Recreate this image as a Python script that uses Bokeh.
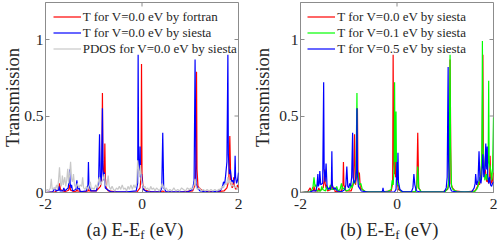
import math
from bokeh.plotting import figure
from bokeh.models import Range1d, FixedTicker, Label, Legend, LegendItem
from bokeh.layouts import row, column
from bokeh.embed import file_html
from bokeh.resources import INLINE

# ---------------- data ----------------
x_ticks = [-2, 0, 2]
x_tick_labels = ["-2", "0", "2"]
y_ticks = [0, 0.5, 1]
y_tick_labels = ["0", "0.5", "1"]
y_title = "Transmission"

legend_a = ["T for V=0.0 eV by fortran", "T for V=0.0 eV by siesta", "PDOS for V=0.0 eV by siesta"]
legend_b = ["T for V=0.0 eV by siesta", "T for V=0.1 eV by siesta", "T for V=0.5 eV by siesta"]

# T(E) at V=0.0 eV by fortran
t_fortran = [(-2.00, 0.0), (-1.80, 0.005), (-1.73, 0.02), (-1.71, 0.06), (-1.69, 0.02), (-1.60, 0.005),
             (-1.52, 0.015), (-1.50, 0.05), (-1.48, 0.015), (-1.40, 0.005), (-1.36, 0.01), (-1.35, 0.02),
             (-1.34, 0.01), (-1.20, 0.005), (-1.12, 0.01), (-1.11, 0.03), (-1.10, 0.01), (-0.95, 0.01),
             (-0.86, 0.04), (-0.84, 0.08), (-0.83, 0.25), (-0.82, 0.65), (-0.81, 0.20), (-0.79, 0.08),
             (-0.78, 0.12), (-0.77, 0.32), (-0.76, 0.10), (-0.74, 0.03), (-0.70, 0.01), (-0.50, 0.003),
             (-0.10, 0.005), (-0.04, 0.03), (-0.02, 0.10), (-0.01, 0.84), (0.00, 0.12), (0.02, 0.04),
             (0.05, 0.015), (0.20, 0.004), (0.40, 0.005), (0.43, 0.01), (0.46, 0.005), (0.80, 0.003),
             (1.05, 0.01), (1.10, 0.05), (1.12, 0.20), (1.13, 0.79), (1.14, 0.15), (1.16, 0.04),
             (1.25, 0.01), (1.50, 0.003), (1.70, 0.01), (1.76, 0.03), (1.80, 0.08), (1.82, 0.37),
             (1.84, 0.06), (1.87, 0.03), (1.89, 0.06), (1.90, 0.10), (1.91, 0.04), (1.95, 0.02),
             (1.98, 0.05), (2.00, 0.03)]

# T(E) at V=0.0 eV by siesta
t_siesta_v00 = [(-2.00, 0.0), (-1.85, 0.005), (-1.80, 0.03), (-1.78, 0.01), (-1.73, 0.015), (-1.72, 0.04),
                (-1.70, 0.01), (-1.64, 0.01), (-1.62, 0.03), (-1.60, 0.01), (-1.53, 0.03), (-1.51, 0.08),
                (-1.50, 0.15), (-1.49, 0.06), (-1.47, 0.03), (-1.46, 0.05), (-1.44, 0.01), (-1.37, 0.02),
                (-1.35, 0.08), (-1.33, 0.02), (-1.30, 0.03), (-1.28, 0.005), (-1.15, 0.01), (-1.12, 0.05),
                (-1.11, 0.20), (-1.10, 0.05), (-1.06, 0.01), (-0.95, 0.01), (-0.90, 0.06), (-0.88, 0.38),
                (-0.86, 0.05), (-0.84, 0.10), (-0.82, 0.55), (-0.81, 0.15), (-0.79, 0.08), (-0.78, 0.13),
                (-0.76, 0.03), (-0.72, 0.02), (-0.65, 0.005), (-0.30, 0.005), (-0.12, 0.01), (-0.09, 0.06),
                (-0.08, 0.90), (-0.07, 0.22), (-0.05, 0.12), (-0.04, 0.30), (-0.03, 0.10), (-0.01, 0.12),
                (0.01, 0.05), (0.03, 0.02), (0.10, 0.005), (0.38, 0.005), (0.41, 0.03), (0.43, 0.39),
                (0.45, 0.03), (0.50, 0.005), (0.95, 0.005), (1.05, 0.02), (1.08, 0.08), (1.10, 0.87),
                (1.12, 0.06), (1.15, 0.03), (1.20, 0.01), (1.40, 0.003), (1.62, 0.01), (1.67, 0.04),
                (1.69, 0.07), (1.71, 0.05), (1.73, 0.10), (1.76, 0.20), (1.78, 0.90), (1.79, 0.25),
                (1.81, 0.12), (1.83, 0.15), (1.86, 0.07), (1.88, 0.08), (1.90, 0.06), (1.92, 0.10),
                (1.93, 0.24), (1.94, 0.10), (1.96, 0.06), (1.98, 0.08), (2.00, 0.13)]

# PDOS at V=0.0 eV by siesta
pdos_v00 = [(-2.00, 0.01), (-1.96, 0.02), (-1.93, 0.01), (-1.90, 0.03), (-1.88, 0.09), (-1.86, 0.02),
            (-1.83, 0.03), (-1.80, 0.02), (-1.77, 0.05), (-1.75, 0.02), (-1.73, 0.08), (-1.71, 0.165),
            (-1.69, 0.06), (-1.67, 0.04), (-1.65, 0.11), (-1.63, 0.05), (-1.60, 0.10), (-1.58, 0.04),
            (-1.56, 0.08), (-1.54, 0.155), (-1.52, 0.06), (-1.50, 0.12), (-1.48, 0.20), (-1.46, 0.09),
            (-1.44, 0.07), (-1.42, 0.12), (-1.40, 0.05), (-1.37, 0.03), (-1.34, 0.06), (-1.31, 0.03),
            (-1.28, 0.05), (-1.25, 0.04), (-1.23, 0.10), (-1.21, 0.03), (-1.18, 0.02), (-1.15, 0.04),
            (-1.12, 0.02), (-1.09, 0.05), (-1.07, 0.07), (-1.05, 0.02), (-1.02, 0.03), (-0.99, 0.02),
            (-0.96, 0.05), (-0.93, 0.03), (-0.90, 0.08), (-0.88, 0.10), (-0.86, 0.05), (-0.83, 0.07),
            (-0.80, 0.09), (-0.78, 0.12), (-0.76, 0.05), (-0.73, 0.04), (-0.70, 0.11), (-0.68, 0.04),
            (-0.65, 0.02), (-0.62, 0.04), (-0.59, 0.02), (-0.56, 0.01), (-0.53, 0.03), (-0.50, 0.02),
            (-0.47, 0.04), (-0.44, 0.02), (-0.41, 0.05), (-0.38, 0.02), (-0.35, 0.03), (-0.32, 0.01),
            (-0.29, 0.04), (-0.26, 0.02), (-0.23, 0.05), (-0.20, 0.02), (-0.17, 0.05), (-0.14, 0.03),
            (-0.11, 0.06), (-0.09, 0.21), (-0.07, 0.15), (-0.05, 0.10), (-0.03, 0.18), (-0.01, 0.08),
            (0.01, 0.05), (0.03, 0.03), (0.06, 0.04), (0.09, 0.02), (0.12, 0.03), (0.15, 0.01),
            (0.18, 0.04), (0.21, 0.02), (0.24, 0.03), (0.27, 0.01), (0.30, 0.03), (0.33, 0.02),
            (0.36, 0.01), (0.39, 0.03), (0.42, 0.06), (0.44, 0.04), (0.47, 0.02), (0.50, 0.03),
            (0.54, 0.01), (0.58, 0.02), (0.62, 0.01), (0.66, 0.03), (0.70, 0.01), (0.74, 0.02),
            (0.78, 0.01), (0.82, 0.03), (0.86, 0.02), (0.90, 0.01), (0.94, 0.03), (0.98, 0.02),
            (1.02, 0.03), (1.05, 0.02), (1.08, 0.05), (1.10, 0.09), (1.12, 0.04), (1.15, 0.02),
            (1.19, 0.03), (1.23, 0.01), (1.27, 0.02), (1.31, 0.01), (1.35, 0.02), (1.39, 0.01),
            (1.43, 0.02), (1.47, 0.01), (1.51, 0.02), (1.55, 0.01), (1.59, 0.02), (1.63, 0.02),
            (1.66, 0.04), (1.69, 0.03), (1.72, 0.06), (1.75, 0.05), (1.78, 0.10), (1.80, 0.06),
            (1.83, 0.08), (1.86, 0.04), (1.89, 0.05), (1.92, 0.03), (1.95, 0.04), (1.98, 0.02),
            (2.00, 0.03)]

# T(E) at V=0.1 eV by siesta
t_siesta_v01 = [(-2.00, 0.0), (-1.80, 0.005), (-1.76, 0.02), (-1.74, 0.04), (-1.72, 0.10), (-1.70, 0.04),
                (-1.68, 0.05), (-1.66, 0.01), (-1.58, 0.01), (-1.56, 0.04), (-1.54, 0.02), (-1.48, 0.01),
                (-1.46, 0.04), (-1.44, 0.02), (-1.40, 0.03), (-1.38, 0.05), (-1.36, 0.02), (-1.32, 0.02),
                (-1.30, 0.03), (-1.27, 0.02), (-1.25, 0.04), (-1.22, 0.01), (-1.18, 0.02), (-1.15, 0.06),
                (-1.13, 0.02), (-1.10, 0.03), (-1.05, 0.01), (-0.98, 0.02), (-0.95, 0.05), (-0.93, 0.03),
                (-0.90, 0.08), (-0.87, 0.06), (-0.85, 0.12), (-0.83, 0.65), (-0.82, 0.15), (-0.80, 0.10),
                (-0.78, 0.05), (-0.75, 0.06), (-0.72, 0.02), (-0.65, 0.005), (-0.20, 0.005), (-0.12, 0.02),
                (-0.10, 0.08), (-0.08, 0.05), (-0.06, 0.15), (-0.05, 0.72), (-0.04, 0.20), (-0.03, 0.25),
                (-0.02, 0.53), (-0.01, 0.12), (0.01, 0.05), (0.03, 0.05), (0.05, 0.02), (0.10, 0.005),
                (0.38, 0.005), (0.41, 0.04), (0.43, 0.17), (0.45, 0.03), (0.50, 0.005), (1.00, 0.005),
                (1.06, 0.03), (1.08, 0.12), (1.10, 0.90), (1.11, 0.30), (1.13, 0.04), (1.16, 0.02),
                (1.25, 0.005), (1.60, 0.005), (1.65, 0.02), (1.68, 0.04), (1.72, 0.10), (1.74, 0.08),
                (1.76, 0.30), (1.77, 0.99), (1.78, 0.30), (1.80, 0.20), (1.82, 0.08), (1.85, 0.12),
                (1.87, 0.08), (1.89, 0.20), (1.90, 0.73), (1.91, 0.20), (1.94, 0.15), (1.96, 0.08),
                (1.98, 0.15), (2.00, 0.49)]

# T(E) at V=0.5 eV by siesta
t_siesta_v05 = [(-2.00, 0.0), (-1.80, 0.003), (-1.75, 0.01), (-1.68, 0.01), (-1.66, 0.04), (-1.64, 0.12),
                (-1.63, 0.04), (-1.61, 0.06), (-1.60, 0.14), (-1.58, 0.05), (-1.54, 0.06), (-1.52, 0.72),
                (-1.51, 0.15), (-1.49, 0.07), (-1.47, 0.19), (-1.45, 0.04), (-1.42, 0.02), (-1.40, 0.03),
                (-1.38, 0.02), (-1.36, 0.05), (-1.35, 0.27), (-1.34, 0.05), (-1.31, 0.02), (-1.28, 0.03),
                (-1.24, 0.01), (-1.15, 0.005), (-1.08, 0.02), (-1.06, 0.05), (-1.04, 0.17), (-1.02, 0.04),
                (-1.00, 0.03), (-0.98, 0.06), (-0.96, 0.04), (-0.94, 0.10), (-0.92, 0.39), (-0.91, 0.10),
                (-0.89, 0.06), (-0.86, 0.08), (-0.84, 0.15), (-0.83, 0.55), (-0.82, 0.12), (-0.80, 0.04),
                (-0.78, 0.03), (-0.74, 0.01), (-0.60, 0.003), (-0.32, 0.003), (-0.30, 0.01), (-0.29, 0.03),
                (-0.28, 0.01), (-0.25, 0.003), (-0.05, 0.005), (-0.02, 0.02), (0.00, 0.20), (0.01, 0.08),
                (0.02, 0.26), (0.03, 0.07), (0.06, 0.02), (0.12, 0.005), (0.30, 0.005), (0.33, 0.03),
                (0.35, 0.12), (0.37, 0.05), (0.40, 0.01), (0.50, 0.003), (0.98, 0.005), (1.02, 0.03),
                (1.04, 0.10), (1.06, 0.82), (1.07, 0.20), (1.09, 0.04), (1.13, 0.01), (1.25, 0.003),
                (1.55, 0.005), (1.60, 0.03), (1.62, 0.06), (1.63, 0.12), (1.65, 0.05), (1.68, 0.08),
                (1.70, 0.27), (1.72, 0.08), (1.74, 0.06), (1.76, 0.12), (1.78, 0.25), (1.80, 0.10),
                (1.82, 0.15), (1.84, 0.32), (1.85, 0.15), (1.87, 0.30), (1.88, 0.12), (1.90, 0.06),
                (1.92, 0.10), (1.94, 0.05), (1.96, 0.04), (1.98, 0.06), (2.00, 0.07)]

# ---------------- style / layout ----------------
FONT = "Liberation Serif"
BOX = "#8c8c8c"
TEXT = "#262626"
RED, BLUE, GREEN, GRAY = "#ff0000", "#0000ff", "#00ff00", "#c8c8c8"

TOTAL_H = 243
MAIN_H = 215
TOP = 2
BOTTOM = 23
FRAME_H = MAIN_H - TOP - BOTTOM
PX_PER_UNIT = 153.0
Y_TOP = FRAME_H / PX_PER_UNIT
XLAB_H = TOTAL_H - MAIN_H


def xs(s):
    return [a for a, b in s]


def ys(s):
    return [b for a, b in s]


def make_main(width, bl, br, ylab_standoff, legend_x, series, names, colors):
    p = figure(width=width, height=MAIN_H, x_range=Range1d(-2, 2), y_range=Range1d(0, Y_TOP),
               output_backend="svg", toolbar_location=None,
               min_border_left=bl, min_border_right=br, min_border_top=TOP, min_border_bottom=BOTTOM)
    p.xgrid.visible = False
    p.ygrid.visible = False
    p.outline_line_color = BOX
    p.outline_line_width = 1
    p.border_fill_color = None

    for ax, ticks, labels in ((p.xaxis[0], x_ticks, x_tick_labels), (p.yaxis[0], y_ticks, y_tick_labels)):
        ax.ticker = FixedTicker(ticks=ticks)
        ax.major_label_overrides = {t: l for t, l in zip(ticks, labels)}
        ax.major_tick_in = 4
        ax.major_tick_out = 0
        ax.minor_tick_line_color = None
        ax.axis_line_color = BOX
        ax.major_tick_line_color = BOX
        ax.major_label_text_font = FONT
        ax.major_label_text_font_size = "15.5px"
        ax.major_label_text_color = TEXT
    p.xaxis[0].major_label_standoff = 6
    p.yaxis[0].major_label_standoff = 2
    p.yaxis[0].axis_label = y_title
    p.yaxis[0].axis_label_text_font = FONT
    p.yaxis[0].axis_label_text_font_size = "18.5px"
    p.yaxis[0].axis_label_text_font_style = "normal"
    p.yaxis[0].axis_label_text_color = TEXT
    p.yaxis[0].axis_label_standoff = ylab_standoff

    items = []
    for s, name, c in zip(series, names, colors):
        r = p.line(xs(s), ys(s), line_color=c, line_width=1.2)
        items.append((name, r))

    # mirrored ticks on the right and top edges of the box
    p.ray(x=[p.x_range.end] * len(y_ticks), y=y_ticks, length=4, length_units="screen",
          angle=math.pi, line_color=BOX, line_width=1)
    p.ray(x=x_ticks, y=[p.y_range.end] * len(x_ticks), length=4, length_units="screen",
          angle=-math.pi / 2, line_color=BOX, line_width=1)

    legend = Legend(items=[LegendItem(label=n, renderers=[r]) for n, r in items],
                    location=(legend_x, FRAME_H - 45 - 9.5),
                    border_line_color=None, background_fill_alpha=0,
                    label_text_font=FONT, label_text_font_size="13px", label_text_color=TEXT,
                    glyph_width=28, glyph_height=15, label_height=15, label_standoff=2,
                    spacing=0, padding=0, margin=0)
    p.add_layout(legend)
    return p


def make_xlab(width, bl, br, panel):
    f = figure(width=width, height=XLAB_H, x_range=Range1d(-2, 2), y_range=Range1d(0, XLAB_H),
               output_backend="svg", toolbar_location=None, x_axis_type=None, y_axis_type=None,
               min_border_left=bl, min_border_right=br, min_border_top=0, min_border_bottom=0)
    f.outline_line_color = None
    f.background_fill_color = None
    f.border_fill_color = None
    f.add_layout(Label(x=0, y=XLAB_H - 14, x_offset=-1.7, text="(%s) E-E" % panel, text_align="right",
                       text_baseline="alphabetic", text_font=FONT, text_font_size="18.5px",
                       text_color=TEXT))
    f.add_layout(Label(x=0, y=XLAB_H - 18.5, x_offset=-1.7, text="f", text_align="left",
                       text_baseline="alphabetic", text_font=FONT, text_font_size="13px",
                       text_color=TEXT))
    f.add_layout(Label(x=0, y=XLAB_H - 14, x_offset=7.5, text="(eV)", text_align="left",
                       text_baseline="alphabetic", text_font=FONT, text_font_size="18.5px",
                       text_color=TEXT))
    return f


# panel (a)
ma = make_main(248, 44, 10, -2, 7.7, [t_fortran, t_siesta_v00, pdos_v00], legend_a, [RED, BLUE, GRAY])
xa = make_xlab(248, 44, 10, "a")
# panel (b)
mb = make_main(250, 52, 5, 3, 7.3, [t_siesta_v00, t_siesta_v01, t_siesta_v05], legend_b, [RED, GREEN, BLUE])
xb = make_xlab(250, 52, 5, "b")

layout = row(column(ma, xa), column(mb, xb))
open("out.html", "w").write(file_html(layout, INLINE))
